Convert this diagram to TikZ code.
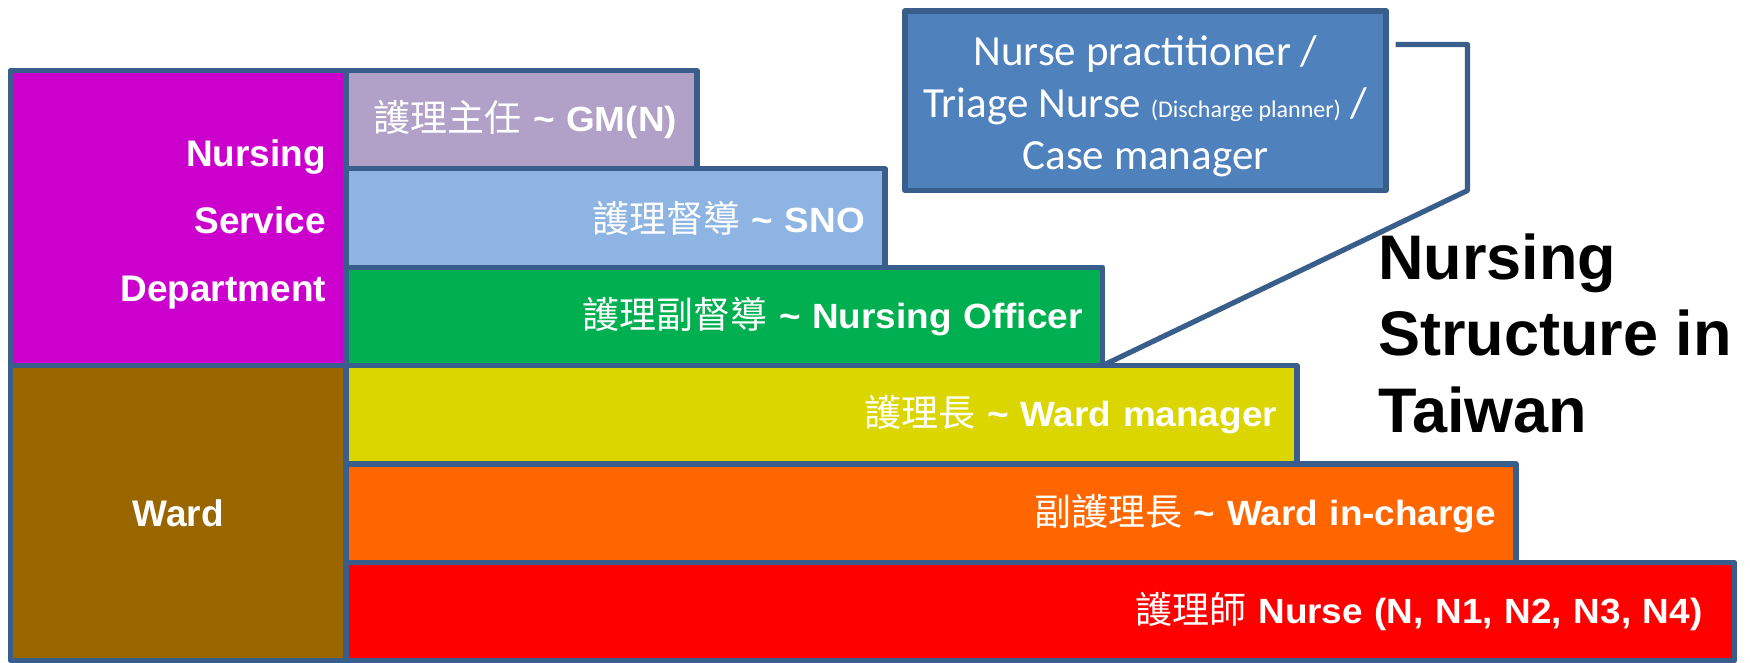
\documentclass[tikz,border=0pt]{standalone}
\usepackage{fontspec}
\setmainfont{Liberation Sans}
\newfontfamily\cjkfont{Noto Sans CJK TC}
\newfontfamily\widefont{Liberation Sans}[FakeStretch=1.055]
\newfontfamily\npfont{Carlito}
\usepackage{xcolor}
\definecolor{edge}{HTML}{3A5E8C}
\definecolor{deptcol}{HTML}{CC00CC}
\definecolor{wardcol}{HTML}{996600}
\definecolor{gmcol}{HTML}{B1A0C7}
\definecolor{snocol}{HTML}{8EB4E3}
\definecolor{officercol}{HTML}{00B050}
\definecolor{managercol}{HTML}{DCD600}
\definecolor{inchargecol}{HTML}{FF6600}
\definecolor{nursecol}{HTML}{FF0000}
\definecolor{npcol}{HTML}{4F81BD}
\newcommand{\zh}[1]{{\cjkfont\mdseries\fontsize{18.5}{22}\selectfont #1}}
\usetikzlibrary{positioning}
\usetikzlibrary{calc}

\begin{document}
\begin{tikzpicture}[x=0.5pt, y=-0.5pt,
    box/.style={draw=edge, line width=2.6pt, line join=round, outer sep=0pt, text=white},
    tier/.style={box, anchor=north west, minimum height=49.18pt, inner xsep=10pt,
      inner ysep=0pt, align=right, font=\widefont\bfseries\fontsize{17.5}{21}\selectfont},
    side/.style={box, anchor=north west, minimum width=167.75pt, minimum height=147.5pt,
      inner xsep=10pt, font=\bfseries\fontsize{18.5}{33.75}\selectfont},
    link/.style={draw=edge, line width=2.6pt, line join=round},
    title/.style={anchor=north west, inner sep=0pt, align=left,
      font=\bfseries\fontsize{31.5}{38.25}\selectfont}]

  \useasboundingbox (0,0) rectangle (1750,663);

  % left column
  \node[side, fill=deptcol, text width=147.75pt, align=right] (dept) at (10.5,70.5)
    {\rule{0pt}{19.5pt}Nursing\\Service\\Department};
  \node[side, fill=wardcol, align=center] (ward) at (dept.south west) {Ward};

  % the six ranks, stacked
  \node[tier, fill=gmcol, text width=155.5pt] (gm) at (dept.north east)
    {\zh{護理主任} \textasciitilde{} GM(N)};
  \node[tier, fill=snocol, text width=249.5pt] (sno) at (gm.south west)
    {\zh{護理督導} \textasciitilde{} SNO};
  \node[tier, fill=officercol, text width=358.25pt] (officer) at (sno.south west)
    {\zh{護理副督導} \textasciitilde{} Nursing Officer};
  \node[tier, fill=managercol, text width=455.5pt] (manager) at (officer.south west)
    {\zh{護理長} \textasciitilde{} Ward manager};
  \node[tier, fill=inchargecol, text width=565pt] (incharge) at (manager.south west)
    {\zh{副護理長} \textasciitilde{} Ward in-charge};
  \node[tier, fill=nursecol, text width=674.25pt] (nurse) at (incharge.south west)
    {\zh{護理師} Nurse (N, N1, N2, N3, N4)\kern6pt};

  % advanced roles
  \node[box, fill=npcol, anchor=north west, minimum width=240.5pt, minimum height=89.75pt,
    align=center, font=\npfont\fontsize{21.5}{26}\selectfont] (np) at (905,11)
    {\rule{0pt}{20pt}Nurse practitioner /\\
     Triage Nurse {\fontsize{12}{14}\selectfont (Discharge planner)} /\\
     Case manager};
  \draw[link] ($(np.north east)+(9.5,33.5)$) -- ++(72,0) -- ++(0,146)
    -- (officer.south east);

  \node[title] (heading) at (1378,233) {Nursing\\Structure in\\Taiwan};

\end{tikzpicture}
\end{document}
